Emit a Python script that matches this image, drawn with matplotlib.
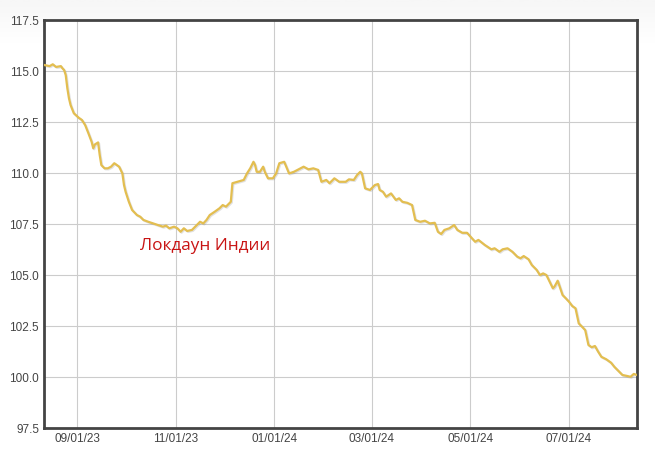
import numpy as np
import pandas as pd
import matplotlib
matplotlib.use("Agg")
import matplotlib.pyplot as plt
import matplotlib.dates as mdates
import matplotlib.patheffects as pe

# Значения (дата, уровень)
dates = [
    "2023-08-12", "2023-08-15", "2023-08-17", "2023-08-19", "2023-08-22", "2023-08-23",
    "2023-08-24", "2023-08-25", "2023-08-26", "2023-08-27", "2023-08-28", "2023-08-30",
    "2023-09-02", "2023-09-04", "2023-09-06", "2023-09-08", "2023-09-10", "2023-09-11",
    "2023-09-12", "2023-09-14", "2023-09-15", "2023-09-16", "2023-09-18", "2023-09-20",
    "2023-09-22", "2023-09-24", "2023-09-27", "2023-09-29", "2023-09-30", "2023-10-01",
    "2023-10-03", "2023-10-05", "2023-10-08", "2023-10-10", "2023-10-12", "2023-10-15",
    "2023-10-18", "2023-10-21", "2023-10-24", "2023-10-26", "2023-10-28", "2023-10-31",
    "2023-11-02", "2023-11-04", "2023-11-06", "2023-11-08", "2023-11-11", "2023-11-14",
    "2023-11-16", "2023-11-18", "2023-11-20", "2023-11-22", "2023-11-25", "2023-11-28",
    "2023-11-30", "2023-12-02", "2023-12-05", "2023-12-06", "2023-12-09", "2023-12-13",
    "2023-12-15", "2023-12-17", "2023-12-19", "2023-12-20", "2023-12-21", "2023-12-23",
    "2023-12-25", "2023-12-26", "2023-12-28", "2023-12-31", "2024-01-02", "2024-01-04",
    "2024-01-07", "2024-01-10", "2024-01-13", "2024-01-17", "2024-01-19", "2024-01-22",
    "2024-01-25", "2024-01-28", "2024-01-30", "2024-02-02", "2024-02-04", "2024-02-07",
    "2024-02-10", "2024-02-14", "2024-02-16", "2024-02-19", "2024-02-21", "2024-02-23",
    "2024-02-24", "2024-02-26", "2024-02-29", "2024-03-03", "2024-03-05", "2024-03-06",
    "2024-03-08", "2024-03-10", "2024-03-13", "2024-03-16", "2024-03-18", "2024-03-20",
    "2024-03-23", "2024-03-26", "2024-03-28", "2024-03-31", "2024-04-03", "2024-04-06",
    "2024-04-09", "2024-04-11", "2024-04-13", "2024-04-15", "2024-04-18", "2024-04-21",
    "2024-04-23", "2024-04-26", "2024-04-29", "2024-05-02", "2024-05-04", "2024-05-06",
    "2024-05-10", "2024-05-14", "2024-05-16", "2024-05-19", "2024-05-21", "2024-05-24",
    "2024-05-27", "2024-05-30", "2024-06-01", "2024-06-03", "2024-06-06", "2024-06-08",
    "2024-06-11", "2024-06-13", "2024-06-15", "2024-06-17", "2024-06-19", "2024-06-21",
    "2024-06-22", "2024-06-24", "2024-06-27", "2024-06-29", "2024-07-01", "2024-07-03",
    "2024-07-05", "2024-07-07", "2024-07-09", "2024-07-11", "2024-07-13", "2024-07-15",
    "2024-07-17", "2024-07-19", "2024-07-21", "2024-07-24", "2024-07-27", "2024-07-29",
    "2024-08-01", "2024-08-03", "2024-08-06", "2024-08-08", "2024-08-10", "2024-08-12",
]
values = [
    115.29, 115.24, 115.33, 115.20, 115.24, 115.13,
    115.05, 114.80, 114.15, 113.66, 113.33, 112.93,
    112.71, 112.60, 112.35, 111.95, 111.53, 111.21,
    111.40, 111.50, 110.88, 110.39, 110.23, 110.23,
    110.31, 110.48, 110.31, 109.98, 109.41, 109.08,
    108.59, 108.19, 107.94, 107.86, 107.70, 107.61,
    107.53, 107.45, 107.37, 107.42, 107.29, 107.37,
    107.29, 107.12, 107.29, 107.16, 107.21, 107.45,
    107.61, 107.53, 107.70, 107.94, 108.10, 108.27,
    108.43, 108.35, 108.59, 109.50, 109.57, 109.66,
    109.98, 110.23, 110.55, 110.39, 110.06, 110.06,
    110.31, 110.06, 109.74, 109.74, 109.98, 110.48,
    110.55, 109.98, 110.06, 110.23, 110.31, 110.18,
    110.23, 110.15, 109.57, 109.66, 109.50, 109.74,
    109.57, 109.57, 109.69, 109.66, 109.90, 110.06,
    109.98, 109.25, 109.17, 109.41, 109.46, 109.17,
    109.08, 108.84, 109.00, 108.68, 108.76, 108.59,
    108.54, 108.43, 107.70, 107.61, 107.66, 107.53,
    107.56, 107.12, 107.01, 107.21, 107.29, 107.45,
    107.21, 107.07, 107.07, 106.80, 106.63, 106.72,
    106.47, 106.26, 106.31, 106.14, 106.26, 106.31,
    106.14, 105.90, 105.82, 105.93, 105.77, 105.49,
    105.25, 105.00, 105.08, 105.00, 104.67, 104.35,
    104.43, 104.72, 104.02, 103.86, 103.69, 103.48,
    103.37, 102.63, 102.47, 102.30, 101.57, 101.46,
    101.52, 101.24, 100.99, 100.87, 100.70, 100.50,
    100.26, 100.10, 100.05, 100.01, 100.15, 100.10,
]
yticks = [97.5, 100.0, 102.5, 105.0, 107.5, 110.0, 112.5, 115.0, 117.5]
label = "Локдаун Индии"

data = pd.DataFrame({"date": pd.to_datetime(dates), "value": values})

fig = plt.figure(figsize=(6.55, 4.55), dpi=100)
fig.patch.set_facecolor("white")

# светло-серый градиент сверху
bg = fig.add_axes([0, 0.90, 1, 0.10], zorder=-5)
grad = np.linspace(1.0, 0.0, 50).reshape(-1, 1)
bg.imshow(grad, aspect="auto", cmap="Greys", vmin=0, vmax=14, extent=[0, 1, 0, 1])
bg.axis("off")

ax = fig.add_axes([0.0672, 0.0593, 0.9053, 0.8967])
ax.set_facecolor("white")

ax.plot(data["date"], data["value"], color="#E3BE50", lw=1.6, zorder=3,
        path_effects=[pe.SimpleLineShadow(offset=(0.7, -0.7), alpha=0.22, shadow_color="#777777"),
                      pe.Normal()])

ax.set_ylim(97.5, 117.5)
ax.set_yticks(yticks)
ax.yaxis.set_major_formatter(plt.FormatStrFormatter("%.1f"))
ax.set_xlim(pd.Timestamp("2023-08-11 14:00"), pd.Timestamp("2024-08-12"))
ax.xaxis.set_major_locator(mdates.MonthLocator(bymonth=[1, 3, 5, 7, 9, 11]))
ax.xaxis.set_major_formatter(mdates.DateFormatter("%m/%d/%y"))

ax.grid(True, color="#cccccc", lw=0.8)
ax.set_axisbelow(True)
for s in ax.spines.values():
    s.set_color("#444444")
    s.set_linewidth(2.0)
ax.tick_params(length=0, pad=3.5, labelsize=8.5, labelcolor="#444444")
for t in ax.get_xticklabels() + ax.get_yticklabels():
    t.set_fontfamily("Liberation Sans")

ax.text(pd.Timestamp("2023-10-10"), 106.42, label, color="#C81414",
        fontsize=12.3, fontfamily="Open Sans", va="center", ha="left")

fig.savefig("out.png", dpi=100)
